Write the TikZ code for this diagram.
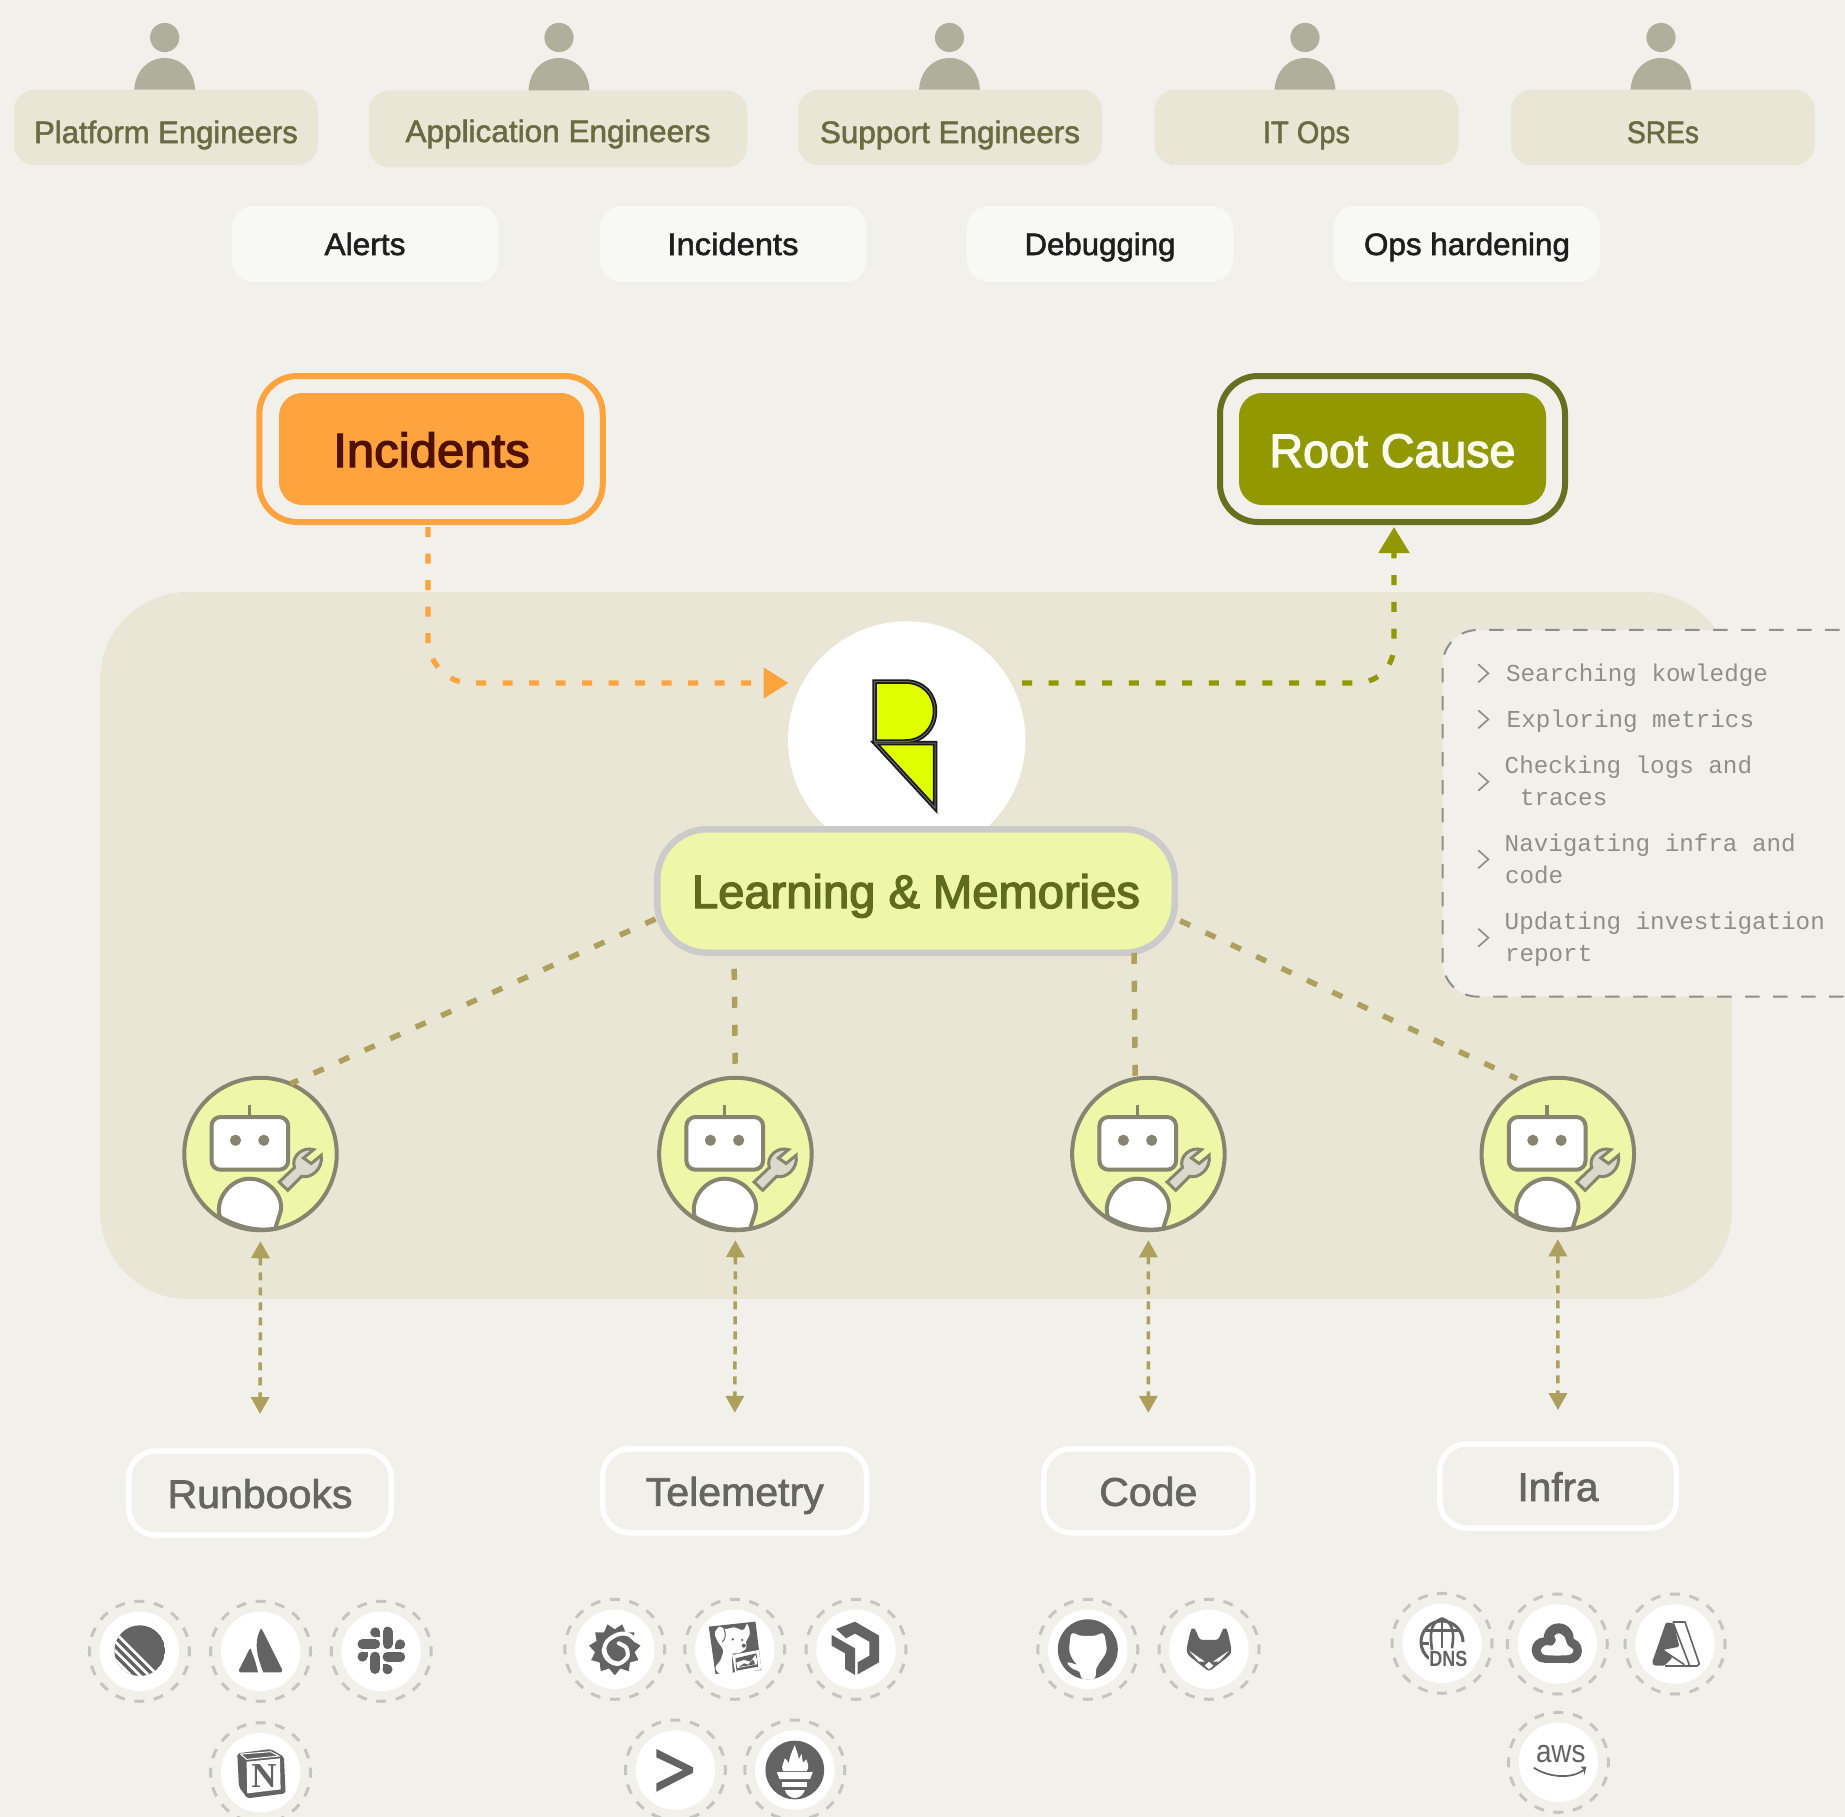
\documentclass[tikz,border=0pt]{standalone}
\usepackage{fontspec}
\usepackage{graphicx}
\usetikzlibrary{arrows.meta,shapes.geometric}
\newfontfamily\uifont[FakeBold=1.7]{Liberation Sans}
\newfontfamily\uibold[FakeBold=2.8]{Liberation Sans}
\newfontfamily\monofont{Liberation Mono}
\newfontfamily\serifb{Liberation Serif Bold}
\newfontfamily\sansb{Liberation Sans Bold}
\newfontfamily\sansr{Liberation Sans}
\definecolor{bgc}{HTML}{F1F0EB}
\definecolor{panelc}{HTML}{E9E6D6}
\definecolor{personc}{HTML}{AEB09B}
\definecolor{persontxt}{HTML}{6C6A41}
\definecolor{taskbg}{HTML}{F8F9F5}
\definecolor{taskc}{HTML}{1E1E1E}
\definecolor{orangec}{HTML}{FFA33E}
\definecolor{inctxt}{HTML}{4F1000}
\definecolor{oliveout}{HTML}{66701F}
\definecolor{olivec}{HTML}{929900}
\definecolor{rootc}{HTML}{FBFBF0}
\definecolor{learnc}{HTML}{EEF6A8}
\definecolor{learnbd}{HTML}{CBCBCB}
\definecolor{learntxt}{HTML}{5F6B1E}
\definecolor{khaki}{HTML}{ADA05C}
\definecolor{robotbd}{HTML}{858570}
\definecolor{wrenchc}{HTML}{DAD9CC}
\definecolor{iconc}{HTML}{636363}
\definecolor{ringc}{HTML}{C4C4C0}
\definecolor{srctxt}{HTML}{666661}
\definecolor{notec}{HTML}{8F8F8A}
\definecolor{logoc}{HTML}{E0FF00}
\newcommand\fw[3]{\fontsize{#2}{#2}\selectfont\resizebox{#1pt}{\height}{#3}}
\tikzset{
  bl/.style={text depth=5pt,text height={(2*#1+5)*1pt}},
  solidbox/.style={rectangle,inner sep=0pt,outer sep=0pt},
  personbox/.style={solidbox,fill=panelc,rounded corners=21pt,text=persontxt,font=\uifont},
  taskbox/.style={solidbox,fill=taskbg,rounded corners=21pt,minimum width=266pt,minimum height=76pt,text=taskc,font=\uifont,bl=11},
  ring/.style={solidbox,draw,rounded corners=38pt,fill=bgc,line width=6pt,minimum width=343.5pt,minimum height=146pt},
  inner/.style={solidbox,rounded corners=23pt,minimum height=112pt,font=\uibold,bl=18},
  srcbox/.style={solidbox,draw=white,line width=5.5pt,fill=bgc,rounded corners=27pt,minimum height=84pt,text=srctxt,font=\uifont,bl=15},
  orangeflow/.style={draw=orangec,line width=5.2pt,dash pattern=on 10pt off 16.5pt},
  oliveflow/.style={draw=olivec,line width=5.2pt,dash pattern=on 10pt off 16.7pt},
  memflow/.style={draw=khaki,line width=5.5pt,dash pattern=on 11pt off 17pt},
  toolflow/.style={draw=khaki,line width=3.5pt,dash pattern=on 8pt off 7pt,{Triangle[length=17pt,width=18pt]}-{Triangle[length=17pt,width=18pt]}},
  robotdisc/.style={circle,inner sep=0pt,outer sep=0pt,minimum size=152.5pt,draw=robotbd,line width=4pt,fill=learnc},
  robotline/.style={draw=robotbd,line width=4pt},
  halo/.style={circle,inner sep=0pt,outer sep=0pt,minimum size=100pt,draw=ringc,line width=3pt,dash pattern=on 10pt off 9.63pt,dash phase=5pt},
  disc/.style={circle,inner sep=0pt,outer sep=0pt,minimum size=79.4pt,fill=white},
  ic/.style={fill=iconc},
  chev/.style={draw=notec,line width=1.7pt},
  note/.style={inner sep=0pt,outer sep=0pt,anchor=base west,text=notec,font=\monofont\fontsize{24.25}{24.25}\selectfont},
  logoa/.style={draw=black!90,line width=4.5pt,fill=logoc,line join=miter},
  logob/.style={draw=black!60,line width=1pt},
}
\newcommand\person[1]{%
  \begin{scope}[shift={(#1,0)}]
    \fill[personc] (0,37.5) circle[radius=14.6];
    \fill[personc] (-30.5,92) .. controls (-30.5,72) and (-17,58) .. (0,58) .. controls (17,58) and (30.5,72) .. (30.5,92) -- cycle;
  \end{scope}}
\newcommand\robot[2]{%
  \node[robotdisc] (#1) at (#2,1154) {};
  \begin{scope}[shift={(#2,1154)}]
    \draw[robotline,line width=3.5pt] (-11,-49.3) -- (-11,-37);
    \draw[robotline,fill=white,rounded corners=9pt] (-49,-37) rectangle (27.7,15.7);
    \fill[robotbd] (-25,-13.7) circle[radius=5.6] (3.3,-13.7) circle[radius=5.6];
    \draw[robotline,fill=white] (-40.5,63) .. controls (-46,45) and (-30,24.7) .. (-11,24.7) .. controls (8,24.7) and (24,42) .. (20,58) -- (14.7,74.6) .. controls (-5,78) and (-25,72) .. cycle;
    \draw[robotline,fill=wrenchc,line width=3pt,line join=miter] (18.7,28) -- (27.3,36.3) -- (41.3,22.3) .. controls (50,25) and (63,15) .. (60.7,1.3) -- (50.7,9.5) -- (43,4) -- (53,-4.3) .. controls (42,-8) and (30,3) .. (34,13.5) -- cycle;
  \end{scope}}
\newcommand\icon[4]{%
  \node[halo] (#1h) at (#2,#3) {};
  \node[disc] (#1) at (#2,#3) {};
  \begin{scope}[shift={(#2,#3)},x=.33333pt,y=-.33333pt]
    #4
  \end{scope}}
\begin{document}
\begin{tikzpicture}[x=1pt,y=-1pt]
\useasboundingbox (0,0) rectangle (1845,1817);
\clip (0,0) rectangle (1845,1817);
\fill[bgc] (0,0) rectangle (1845,1817);
% persona row
\person{164.7}\person{559}\person{949.5}\person{1305}\person{1661}
\node[personbox,minimum width=304pt,minimum height=75.5pt,bl=15.5] (pe) at (166,127.5) {\fw{263.6}{31}{Platform Engineers}};
\node[personbox,minimum width=378.5pt,minimum height=77pt,bl=13] (ae) at (558,129) {\fw{305}{31}{Application Engineers}};
\node[personbox,minimum width=304pt,minimum height=75.5pt,bl=15.5] (se) at (950,127.5) {\fw{260}{31}{Support Engineers}};
\node[personbox,minimum width=304pt,minimum height=75.5pt,bl=15.5] (it) at (1306.5,127.5) {\fw{87}{31}{IT Ops}};
\node[personbox,minimum width=304pt,minimum height=75.5pt,bl=15.5] (sre) at (1663,127.5) {\fw{72}{31}{SREs}};
% task row
\node[taskbox] (t1) at (365,244) {\fw{81}{31}{Alerts}};
\node[taskbox] (t2) at (733,244) {\fw{131}{31}{Incidents}};
\node[taskbox] (t3) at (1100,244) {\fw{151}{31}{Debugging}};
\node[taskbox] (t4) at (1467,244) {\fw{206}{31}{Ops hardening}};
% main panel
\fill[panelc,rounded corners=88pt] (100,592) rectangle (1732,1299);
\node[solidbox,draw=notec,line width=2pt,dash pattern=on 14.5pt off 13.5pt,fill=bgc,rounded corners=35pt,minimum width=432pt,minimum height=366.7pt] (notes) at (1658.7,813.3) {};
\foreach \cy in {673.3,719.3,781.7,859.3,937.7}{
  \draw[chev] (1478.3,\cy-9) -- (1488.3,\cy) -- (1478.3,\cy+9);
}
\node[note] (n1) at (1506,681) {Searching kowledge};
\node[note] (n2) at (1506.7,727.3) {Exploring metrics};
\node[note] (n3) at (1504.7,773.5) {Checking logs and};
\node[note] (n3b) at (1520,805) {traces};
\node[note] (n4) at (1504.7,851.3) {Navigating infra and};
\node[note] (n4b) at (1505,883.3) {code};
\node[note] (n5) at (1504.7,929.3) {Updating investigation};
\node[note] (n5b) at (1505,961) {report};
% core
\node[circle,fill=white,inner sep=0pt,outer sep=0pt,minimum size=237.4pt] (brain) at (906.7,740) {};
\draw[logoa] (874.5,681.5) -- (905,681.5) .. controls (923,681.5) and (935,694) .. (935,711) .. controls (935,728) and (923,741.5) .. (905,741.5) -- (874.5,741.5) -- cycle;
\draw[logoa] (875,743) -- (935,743) -- (935,808) -- cycle;
\draw[logob] (874.5,681.5) -- (905,681.5) .. controls (923,681.5) and (935,694) .. (935,711) .. controls (935,728) and (923,741.5) .. (905,741.5) -- (874.5,741.5) -- cycle;
\draw[logob] (875,743) -- (935,743) -- (935,808) -- cycle;
% incident / root cause
\node[ring,draw=orangec] (incOuter) at (431,449) {};
\node[inner,fill=orangec,minimum width=305pt,text=inctxt] (inc) at (431.5,449) {\fw{196.5}{48}{Incidents}};
\node[ring,draw=oliveout,minimum width=345pt] (rootOuter) at (1392.5,449) {};
\node[inner,fill=olivec,minimum width=307pt,text=rootc] (root) at (1392.5,449) {\fw{246}{47}{Root Cause}};
\coordinate (inTip) at (788.5,683);
\coordinate (outStart) at (1022,683);
\draw[orangeflow,-{Triangle[length=25pt,width=30pt]},shorten <=2pt] ([xshift=-3pt]incOuter.south) ++(0,3) -- (428,640) .. controls (428,660) and (445,683) .. (470,683) -- (inTip);
\draw[oliveflow,shorten >=5pt,-{Triangle[length=26pt,width=30pt]}] (outStart) -- (1355,683) .. controls (1380,683) and (1394,665) .. (1394,645) -- ([xshift=1.5pt]rootOuter.south);
% robots & learning
\node[solidbox,draw=learnbd,line width=6.5pt,fill=learnc,rounded corners=50pt,minimum width=517.5pt,minimum height=123.5pt,text=learntxt,font=\uibold,bl=17] (learn) at (916,891) {\fw{448}{47}{Learning \& Memories}};
\robot{robotA}{260.5}
\robot{robotB}{735.4}
\robot{robotC}{1148.4}
\robot{robotD}{1557.8}
\draw[memflow,shorten <=2pt] (learn.186.3) -- (robotA.67);
\draw[memflow,shorten <=16pt] ([xshift=-182pt]learn.south) -- (robotB.north);
\draw[memflow] ([xshift=218pt]learn.south) -- (robotC.100.7);
\draw[memflow,shorten <=6pt,shorten >=12pt] (learn.354.2) -- (robotD.113);
% sources
\node[srcbox,minimum width=262.5pt] (runbooks) at (260,1493) {\fw{185}{40}{Runbooks}};
\node[srcbox,minimum width=264pt] (telemetry) at (734.7,1490.8) {\fw{178}{40}{Telemetry}};
\node[srcbox,minimum width=209pt] (code) at (1148.3,1490.8) {\fw{98}{40}{Code}};
\node[srcbox,minimum width=236.5pt] (infra) at (1558,1486) {\fw{81}{40}{Infra}};
\draw[toolflow,shorten <=11pt,shorten >=37pt] (robotA.south) -- (runbooks.north);
\draw[toolflow,shorten <=10pt,shorten >=36pt] (robotB.south) -- (telemetry.north);
\draw[toolflow,shorten <=10pt,shorten >=36pt] (robotC.south) -- (code.north);
\draw[toolflow,shorten <=9pt,shorten >=34pt] (robotD.south) -- (infra.north);
% icons: runbooks
\icon{linear}{139.4}{1651.3}{
  \begin{scope}
    \clip (1,-2) circle[radius=76];
    \fill[ic] (1,-2) circle[radius=76];
    \foreach \c in {-17,-44,-71,-98}{
      \draw[white,line width=2.6pt] (-150,-150-\c) -- (150,150-\c);
    }
  \end{scope}
}
\icon{atlassian}{260.6}{1651.3}{
  \fill[ic] (0,-67) .. controls (-14,-38) and (-20,-8) .. (8,63) -- (60,63) .. controls (66,63) and (66,57) .. (64,54) -- (6,-62) .. controls (4,-68) and (-2,-68) .. (0,-67) -- cycle;
  \fill[ic] (-30,-8) .. controls (-22,14) and (-12,40) .. (-8,63) -- (-60,63) .. controls (-66,63) and (-66,57) .. (-64,54) -- (-34,-5) -- cycle;
}
\icon{slack}{381.2}{1651.3}{
  \draw[iconc,line width=10pt,line cap=round] (19,-59) -- (19,-22) (-56,-21) -- (-18,-21) (19,16) -- (57,16) (-18,16) -- (-18,53);
  \fill[ic] (-18,-57) circle[radius=15];
  \fill[ic] (-18,-57) rectangle (-3,-42);
  \fill[ic] (57,-21) circle[radius=15];
  \fill[ic] (42,-21) rectangle (57,-6);
  \fill[ic] (-56,16) circle[radius=15];
  \fill[ic] (-56,1) rectangle (-41,16);
  \fill[ic] (19,54) circle[radius=15];
  \fill[ic] (4,39) rectangle (19,54);
}
\icon{notion}{260.6}{1772.7}{
  \fill[ic,rounded corners=2pt] (-70,-58) -- (30,-71) -- (70,-48) -- (75,62) -- (-40,77) -- (-65,42) -- cycle;
  \fill[white] (-42,-33) -- (58,-43) -- (60,50) -- (-40,62) -- cycle;
  \draw[white,line width=1pt] (-60,-56) -- (30,-63) -- (55,-50) -- (-42,-40) -- cycle;
  \node[inner sep=0pt,text=iconc,font=\serifb\fontsize{35}{35}\selectfont] (notionN) at (10,10) {N};
}
% icons: telemetry
\icon{grafana}{614.8}{1649.3}{
  \fill[ic] (90:78) \foreach \k in {0,...,10}{ -- ({90+(\k+.5)*32.727}:60) -- ({90+(\k+1)*32.727}:78)} -- cycle;
  \draw[white,line width=4pt,line cap=round] plot[smooth] coordinates {(65,-25) (40,-45) (10,-45) (-22,-25) (-32,5) (-12,35) (15,42) (38,22) (34,-5) (12,-18)};
  \fill[white] (-40,0) .. controls (-38,30) and (-15,52) .. (15,50) .. controls (-8,40) and (-25,20) .. (-25,0) -- cycle;
}
\icon{datadog}{734.8}{1649.3}{
  \fill[ic] (-78,-68) -- (62,-83) -- (80,62) -- (-58,74) -- cycle;
  \fill[white] plot[smooth cycle,tension=.6] coordinates {(-60,-48) (-45,-68) (-28,-60) (-3,-66) (25,-58) (37,-76) (45,-48) (34,-23) (34,-3) (12,12) (-8,17) (-8,74) (-33,84) (-58,57) (-43,32) (-35,2) (-48,-18)};
  \draw[iconc,line width=1pt] (-33,-62) .. controls (-25,-45) and (-28,-30) .. (-38,-22);
  \fill[ic] (-6,-30) circle[radius=4];
  \fill[ic] (22,-28) circle[radius=4];
  \fill[ic] (27,-11) circle[radius=6];
  \fill[white] (-8,17) -- (72,2) -- (80,60) -- (2,74) -- cycle;
  \fill[ic] (2,27) -- (65,12) -- (70,52) -- (5,64) -- cycle;
  \fill[white] (4,40) -- (27,32) -- (47,37) -- (62,17) -- (66,30) -- (67,45) -- (8,56) -- cycle;
  \fill[ic] (12,53) -- (28,42) -- (40,46) -- (55,30) -- (61,45) -- cycle;
}
\icon{newrelic}{856}{1649.3}{
  \fill[ic] (-60,-61) -- (-3,-83) -- (69,-41) -- (69,39) -- (5,75) -- (5,39) -- (40,19) -- (40,-23) -- (-3,-47) -- (-30,-33) -- cycle;
  \fill[ic] (-73,-43) -- (-3,-3) -- (-3,77) -- (-33,59) -- (-33,12) -- (-73,-11) -- cycle;
}
\icon{splunk}{675.4}{1770}{
  \fill[ic] (-57,-63) -- (53,-8) -- (53,8) -- (-57,65) -- (-57,40) -- (23,0) -- (-57,-38) -- cycle;
}
\icon{prometheus}{794.8}{1770}{
  \fill[ic] (0,0) circle[radius=88];
  \fill[white] (-36,3) .. controls (-42,-15) and (-32,-22) .. (-30,-35) .. controls (-22,-28) and (-20,-24) .. (-18,-20) .. controls (-16,-40) and (-8,-55) .. (0,-75) .. controls (4,-58) and (10,-50) .. (12,-32) .. controls (16,-40) and (18,-45) .. (20,-48) .. controls (24,-30) and (22,-25) .. (26,-22) .. controls (30,-25) and (32,-28) .. (34,-32) .. controls (42,-15) and (42,-8) .. (36,3) -- cycle;
  \fill[white] (-54,6) -- (54,6) -- (46,27) -- (-46,27) -- cycle;
  \fill[white] (-38,35) -- (38,35) -- (38,50) -- (-38,50) -- cycle;
  \fill[white] (-30,60) -- (30,60) .. controls (26,74) and (14,84) .. (0,84) .. controls (-14,84) and (-26,74) .. (-30,60) -- cycle;
}
% icons: code
\icon{github}{1087.8}{1649.3}{
  \fill[ic] (0,0) circle[radius=90];
  \fill[white,rounded corners=4pt] (-50,-53) -- (-24,-40) -- (24,-40) -- (48,-53) -- (54,-23) -- (58,7) -- (31,47) -- (24,54) -- (24,90) -- (-22,90) -- (-22,64) -- (-44,62) -- (-67,37) -- (-44,42) -- (-24,50) -- (-39,42) -- (-57,7) -- (-54,-23) -- cycle;
}
\icon{gitlab}{1209}{1649.3}{
  \fill[ic,rounded corners=3pt] (-68,2) -- (-55,-58) -- (-47,-65) -- (-40,-58) -- (-28,-28) -- (28,-28) -- (40,-58) -- (47,-65) -- (55,-58) -- (68,2) -- (63,17) -- (0,67) -- (-63,17) -- cycle;
  \fill[white] (-60,4) -- (-12,37) -- (-30,37) -- cycle;
  \fill[white] (60,4) -- (12,37) -- (30,37) -- cycle;
  \fill[white] (0,37) -- (13,49) -- (0,60) -- (-13,49) -- cycle;
}
% icons: infra
\icon{dns}{1442}{1643.3}{
  \draw[iconc,line width=3pt] (0,-12) ++(63,8) arc[start angle=0,end angle=-232,radius=63] ;
  \draw[iconc,line width=2.6pt] (0,-75) -- (0,15) (-55,-38) -- (55,-38) (-63,0) -- (-38,0);
  \draw[iconc,line width=2.6pt] (0,-75) .. controls (-40,-60) and (-35,-20) .. (-30,20) (0,-75) .. controls (40,-60) and (35,-20) .. (30,15);
  \fill[white] (-40,25) rectangle (80,72);
  \node[inner sep=0pt,text=iconc,font=\sansb\fontsize{22}{22}\selectfont] (dnsT) at (19,47) {\resizebox{38pt}{\height}{DNS}};
}
\icon{gcloud}{1557.3}{1644}{
  \fill[ic] (4,-17) circle[radius=45];
  \fill[ic] (-39,18) circle[radius=38];
  \fill[ic] (36,20) circle[radius=38];
  \fill[ic] (-39,-5) rectangle (36,58);
  \fill[white] plot[smooth cycle,tension=.5] coordinates {(-49,18) (-36,4) (-14,4) (-4,-12) (-9,-24) (4,-32) (21,-22) (31,3) (48,18) (34,33) (-36,33)};
}
\icon{azure}{1675}{1644}{
  \fill[ic,rounded corners=1.5pt] (-27,-65) -- (-4,-62) -- (13,8) -- (-37,18) -- (-7,40) -- (-32,65) -- (-62,65) -- (-69,56) -- cycle;
  \draw[iconc,line width=1.6pt,line join=round] (-7,-66) -- (30,-66) -- (73,60) -- (66,66) -- (-30,66);
  \draw[iconc,line width=1.6pt] (-5,-62) -- (43,63);
  \draw[iconc,line width=1.6pt] (-37,18) -- (28,62);
}
\icon{aws}{1558.4}{1762.3}{
  \node[inner sep=0pt,text=iconc,font=\sansr\fontsize{32}{32}\selectfont] (awsT) at (7,-24) {\resizebox{49.5pt}{\height}{aws}};
  \draw[iconc,line width=1.7pt] (-74,16) .. controls (-34,43) and (36,53) .. (76,23);
  \fill[ic] (66,13) -- (84,13) -- (78,38) -- (75,22) -- cycle;
}
\end{tikzpicture}
\end{document}
